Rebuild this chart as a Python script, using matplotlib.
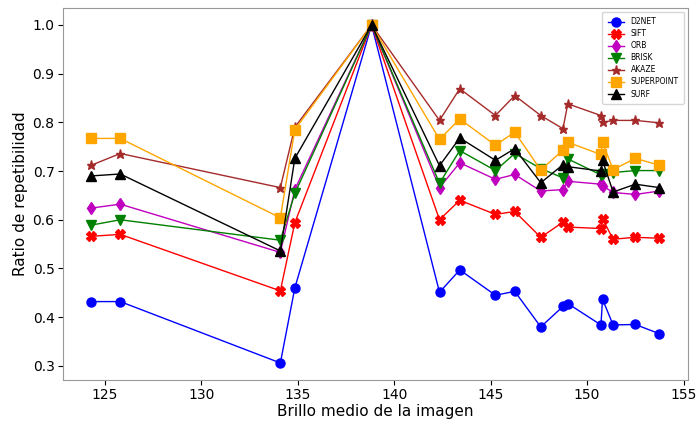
import matplotlib
matplotlib.use("Agg")
import matplotlib.pyplot as plt

# ------------------------------------------------
# DATA
# ------------------------------------------------

# mean brightness of each image (shared by all detectors)
brillo = [124.3, 125.8, 134.1, 134.85, 138.83, 142.35, 143.4, 145.25, 146.25,
          147.6, 148.75, 149.0, 150.72, 150.8, 151.35, 152.5, 153.75]

d2net = [0.432, 0.432, 0.306, 0.460, 1.0, 0.451, 0.497, 0.445, 0.453,
         0.380, 0.422, 0.428, 0.384, 0.437, 0.384, 0.385, 0.366]
sift = [0.566, 0.570, 0.454, 0.594, 1.0, 0.600, 0.640, 0.611, 0.617,
        0.564, 0.595, 0.585, 0.582, 0.602, 0.560, 0.564, 0.562]
orb = [0.624, 0.632, 0.533, 0.662, 1.0, 0.666, 0.717, 0.683, 0.693,
       0.659, 0.662, 0.679, 0.673, 0.670, 0.656, 0.652, 0.659]
brisk = [0.589, 0.600, 0.558, 0.654, 1.0, 0.675, 0.742, 0.701, 0.736,
         0.705, 0.686, 0.725, 0.692, 0.694, 0.697, 0.701, 0.701]
akaze = [0.712, 0.736, 0.666, 0.790, 1.0, 0.804, 0.869, 0.814, 0.855,
         0.814, 0.787, 0.838, 0.814, 0.800, 0.804, 0.804, 0.799]
superpoint = [0.767, 0.767, 0.604, 0.785, 1.0, 0.765, 0.807, 0.753, 0.780,
              0.702, 0.743, 0.759, 0.734, 0.759, 0.703, 0.726, 0.712]
surf = [0.690, 0.694, 0.536, 0.726, 1.0, 0.711, 0.768, 0.722, 0.746,
        0.676, 0.713, 0.709, 0.700, 0.722, 0.657, 0.673, 0.666]

series = [
    ("D2NET", d2net, "blue", "o"),
    ("SIFT", sift, "red", "X"),
    ("ORB", orb, "m", "d"),
    ("BRISK", brisk, "green", "v"),
    ("AKAZE", akaze, "brown", "*"),
    ("SUPERPOINT", superpoint, "orange", "s"),
    ("SURF", surf, "black", "^"),
]

# ------------------------------------------------
# PLOT
# ------------------------------------------------

fig = plt.figure(figsize=(6.99, 4.23), dpi=100)
ax = fig.add_axes([0.090, 0.102, 0.894, 0.879])

for name, vals, col, mk in series:
    ax.plot(brillo, vals, color=col, marker=mk, markersize=6.5, linewidth=1, label=name)

ax.set_xlabel("Brillo medio de la imagen", fontsize=11, labelpad=1)
ax.set_ylabel("Ratio de repetibilidad", fontsize=11, labelpad=3)
ax.tick_params(labelsize=10, pad=2.5)
ax.legend(loc="upper right", fontsize=5.5, labelspacing=0.4, borderpad=0.7,
          handlelength=2.2, markerscale=1.0)

for sp in ax.spines.values():
    sp.set_color("#999999")

fig.savefig("out.png", dpi=100)
